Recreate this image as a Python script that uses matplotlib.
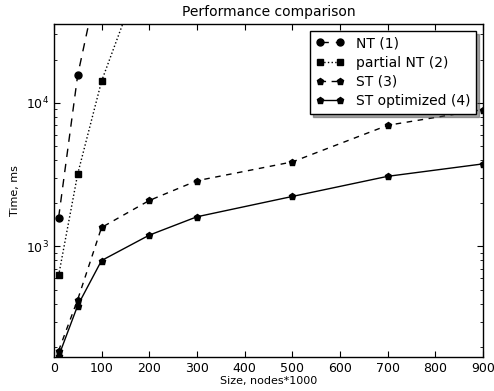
import matplotlib
matplotlib.use('agg')
import matplotlib.pyplot as plt

# data
sizes_nt = [10, 50, 100]
time_nt = [1590, 15600, 92000]
sizes_pnt = [10, 50, 100, 200]
time_pnt = [628, 3200, 14150, 112000]
sizes_st = [10, 50, 100, 200, 300, 500, 700, 900]
time_st = [188, 427, 1356, 2090, 2870, 3880, 6980, 8980]
time_st_opt = [172, 388, 798, 1199, 1610, 2230, 3080, 3760]

fig = plt.figure(figsize=(4.94, 3.91), dpi=100)
ax = fig.add_axes([0.109, 0.087, 0.869, 0.852])

ax.plot(sizes_nt, time_nt, 'k', linestyle='--', dashes=(6, 5), marker='o',
        markersize=5, linewidth=1, label='NT (1)')
ax.plot(sizes_pnt, time_pnt, 'k', linestyle=':', marker='s',
        markersize=5, linewidth=1, label='partial NT (2)')
ax.plot(sizes_st, time_st, 'k', linestyle='--', dashes=(4, 4), marker='p',
        markersize=4.5, linewidth=1, label='ST (3)')
ax.plot(sizes_st, time_st_opt, 'k', linestyle='-', marker='p',
        markersize=4.5, linewidth=1, label='ST optimized (4)')

ax.set_yscale('log')
ax.set_xlim(0, 900)
ax.set_ylim(170, 35500)
ax.set_xticks(range(0, 901, 100))
ax.tick_params(which='both', direction='in', top=True, right=True, labelsize=9)
ax.tick_params(which='major', length=4)
ax.tick_params(which='minor', length=2)
for s in ax.spines.values():
    s.set_linewidth(1)

ax.set_title('Performance comparison', fontsize=10)
ax.set_xlabel('Size, nodes*1000', fontsize=8, labelpad=1)
ax.set_ylabel('Time, ms', fontsize=8)

leg = ax.legend(loc='upper right', fontsize=10, shadow=True, fancybox=False,
                framealpha=1, borderaxespad=0.5, numpoints=2, handlelength=2.05,
                handletextpad=0.86, labelspacing=0.38, borderpad=0.4)
leg.get_frame().set_edgecolor('black')

fig.savefig('out.png')
